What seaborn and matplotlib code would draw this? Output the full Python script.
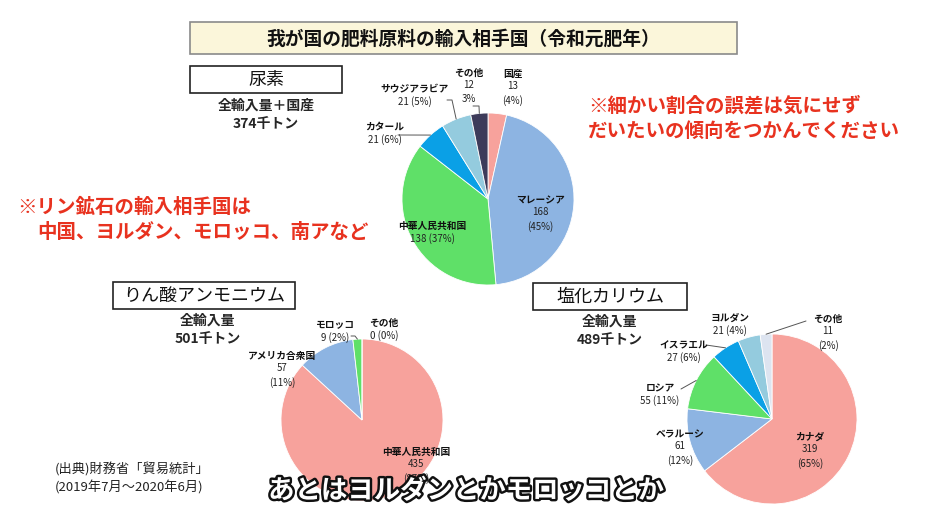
import seaborn as sns
import matplotlib.pyplot as plt
import matplotlib.patheffects as pe
from matplotlib.patches import Rectangle
import numpy as np

# data (thousand tonnes, share in %)
urea_countries = ['国産', 'マレーシア', '中華人民共和国', 'カタール', 'サウジアラビア', 'その他']
urea_values = [13, 168, 138, 21, 21, 12]
urea_pcts = [4, 45, 37, 6, 5, 3]

dap_countries = ['中華人民共和国', 'アメリカ合衆国', 'モロッコ', 'その他']
dap_values = [435, 57, 9, 0]
dap_pcts = [87, 11, 2, 0]

kcl_countries = ['カナダ', 'ベラルーシ', 'ロシア', 'イスラエル', 'ヨルダン', 'その他']
kcl_values = [319, 61, 55, 27, 21, 11]
kcl_pcts = [65, 12, 11, 6, 4, 2]

totals = ['374千トン', '501千トン', '489千トン']

sns.set_theme(style='white')
plt.rcParams['font.family'] = ['Noto Sans CJK JP', 'DejaVu Sans']

PINK = '#f7a29c'
BLUE = '#8db4e2'
GREEN = '#5fe068'
BRIGHT = '#0aa0e6'
LIGHT = '#94cbde'
NAVY = '#3d3b5a'
PALE = '#dde4f0'
RED = '#e8321f'

W, H = 930, 523
fig = plt.figure(figsize=(9.3, 5.23), dpi=100)
bg = fig.add_axes([0, 0, 1, 1])
bg.set_xlim(0, W)
bg.set_ylim(H, 0)
bg.axis('off')

# overlay for labels so they sit above the pies
fg = fig.add_axes([0, 0, 1, 1])
fg.set_xlim(0, W)
fg.set_ylim(H, 0)
fg.axis('off')
fg.set_zorder(10)


def draw_pie(values, names, pcts, colors, cx, cy, r, labels):
    '''
    Draws one pie centred at pixel (cx, cy) with radius r.
    labels: per slice (x, y, fmt, leader) in pixels, leader = (ax, ay, dx) or None
    '''
    s = 1.25 * r
    ax = fig.add_axes([(cx - s) / W, 1 - (cy + s) / H, 2 * s / W, 2 * s / H])
    wedges, _ = ax.pie(values, colors=colors, startangle=90, counterclock=False,
                       wedgeprops=dict(edgecolor='white', linewidth=0.6))
    ax.set_xlim(-1.25, 1.25)
    ax.set_ylim(-1.25, 1.25)
    for w, name, v, p, lab in zip(wedges, names, values, pcts, labels):
        x, y, fmt, leader = lab
        fg.text(x, y, name, fontsize=7, fontweight='bold', color='#111',
                ha='center', va='center')
        fg.text(x, y + 7, fmt.format(v=v, p=p), fontsize=7, color='#222',
                ha='center', va='top', linespacing=1.45)
        if leader is not None:
            lx, ly, dx = leader
            mid = np.deg2rad((w.theta1 + w.theta2) / 2)
            rx, ry = cx + r * np.cos(mid), cy - r * np.sin(mid)
            xs = [lx, lx + dx, rx] if dx else [lx, rx]
            ys = [ly, ly, ry] if dx else [ly, ry]
            fg.plot(xs, ys, color='#555', lw=0.7)


# title
bg.add_patch(Rectangle((190, 22), 547, 32, facecolor='#fbf6da', edgecolor='#8a8a8a', lw=1.2))
bg.text(463, 39, '我が国の肥料原料の輸入相手国（令和元肥年）', fontsize=13.5,
        fontweight='bold', ha='center', va='center', color='#111')

# section boxes
for (x0, y0, w, label) in [(190, 66, 152, '尿素'), (113, 282, 182, 'りん酸アンモニウム'),
                          (533, 283, 154, '塩化カリウム')]:
    bg.add_patch(Rectangle((x0, y0), w, 27, facecolor='white', edgecolor='#222', lw=1.2))
    bg.text(x0 + w / 2, y0 + 13.5, label, fontsize=13, ha='center', va='center', color='#111')

bg.text(266, 106, '全輸入量＋国産', fontsize=10, fontweight='bold', ha='center', va='center')
bg.text(266, 124, totals[0], fontsize=10, fontweight='bold', ha='center', va='center')
bg.text(208, 321, '全輸入量', fontsize=10, fontweight='bold', ha='center', va='center')
bg.text(208, 339, totals[1], fontsize=10, fontweight='bold', ha='center', va='center')
bg.text(610, 322, '全輸入量', fontsize=10, fontweight='bold', ha='center', va='center')
bg.text(610, 340, totals[2], fontsize=10, fontweight='bold', ha='center', va='center')

# red notes
bg.text(588, 106, '※細かい割合の誤差は気にせず', fontsize=14, fontweight='bold', color=RED, va='center')
bg.text(588, 131, 'だいたいの傾向をつかんでください', fontsize=14, fontweight='bold', color=RED, va='center')
bg.text(17, 207, '※リン鉱石の輸入相手国は', fontsize=14, fontweight='bold', color=RED, va='center')
bg.text(37, 232, '中国、ヨルダン、モロッコ、南アなど', fontsize=14, fontweight='bold', color=RED, va='center')

# source
bg.text(55, 469, '(出典)財務省「貿易統計」', fontsize=9.5, color='#222', va='center')
bg.text(55, 487, '(2019年7月～2020年6月)', fontsize=9.5, color='#222', va='center')

# pies
draw_pie(urea_values, urea_countries, urea_pcts,
         [PINK, BLUE, GREEN, BRIGHT, LIGHT, NAVY], 488, 199, 86,
         [(513, 74, '{v}\n({p}%)', None),
          (540, 200, '{v}\n({p}%)', None),
          (432, 226, '{v} ({p}%)', None),
          (385, 127, '{v} ({p}%)', (398, 135, 0)),
          (415, 89, '{v} ({p}%)', (447, 100, 5)),
          (469, 73, '{v}\n{p}%', (473, 106, 6))])

draw_pie(dap_values, dap_countries, dap_pcts,
         [PINK, BLUE, GREEN, PALE], 362, 420, 81,
         [(416, 452, '{v}\n({p}%)', None),
          (282, 356, '{v}\n({p}%)', None),
          (335, 325, '{v} ({p}%)', (351, 336, 4)),
          (384, 323, '{v} ({p}%)', None)])

draw_pie(kcl_values, kcl_countries, kcl_pcts,
         [PINK, BLUE, GREEN, BRIGHT, LIGHT, PALE], 772, 419, 85,
         [(810, 437, '{v}\n({p}%)', None),
          (680, 434, '{v}\n({p}%)', None),
          (660, 388, '{v} ({p}%)', (681, 389, 0)),
          (684, 345, '{v} ({p}%)', (706, 345, 0)),
          (730, 318, '{v} ({p}%)', None),
          (828, 319, '{v}\n({p}%)', (806, 321, 0))])

# spoken caption
fg.text(466, 491, 'あとはヨルダンとかモロッコとか', fontsize=19, fontweight='bold',
        color='white', ha='center', va='center', zorder=10,
        path_effects=[pe.withStroke(linewidth=3.5, foreground='#111')])

fig.savefig('out.png', dpi=100)
